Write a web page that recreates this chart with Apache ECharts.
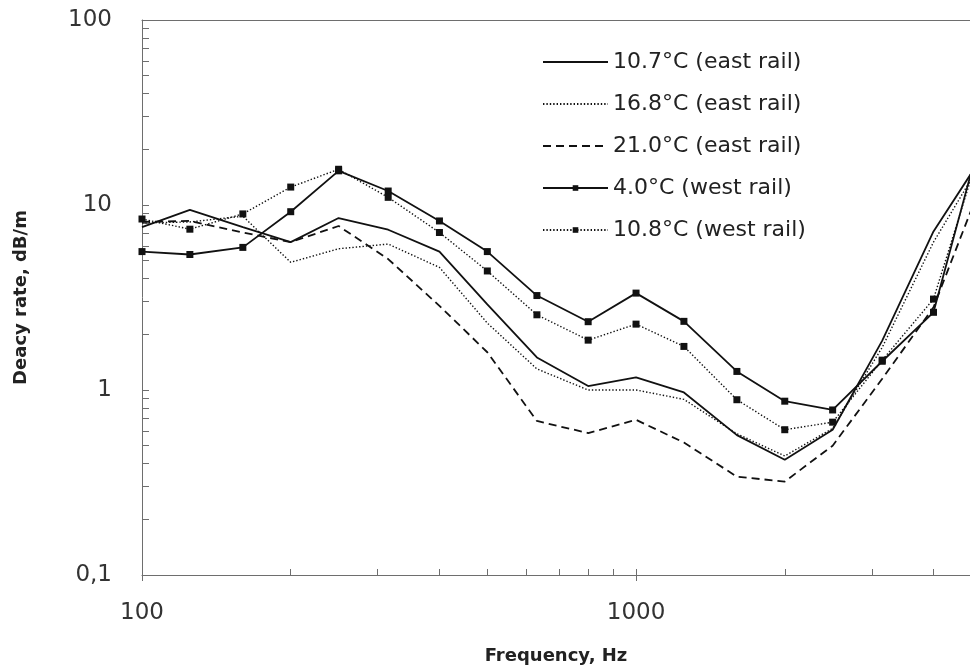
<!DOCTYPE html>
<html>
<head>
<meta charset="utf-8">
<script src="https://cdn.jsdelivr.net/npm/echarts@6/dist/echarts.min.js"></script>
<style>
  html, body { margin: 0; padding: 0; background: #fff; }
  #chart { width: 970px; height: 670px; }
</style>
</head>
<body>
<div id="chart"></div>
<script>
// Third-octave band centre frequencies, Hz
const frequencies = [100, 125, 160, 200, 250, 315, 400, 500, 630, 800, 1000, 1250, 1600, 2000, 2500, 3150, 4000, 5000];

// Track decay rate, dB/m
const east107 = [7.6, 9.4, 7.6, 6.3, 8.5, 7.35, 5.6, 2.9, 1.5, 1.05, 1.17, 0.97, 0.57, 0.42, 0.61, 1.85, 7.2, 18];
const east168 = [8.0, 8.1, 8.7, 4.9, 5.8, 6.15, 4.6, 2.3, 1.3, 1.0, 1.0, 0.89, 0.58, 0.44, 0.62, 1.7, 6.3, 17];
const east210 = [8.1, 8.2, 7.1, 6.3, 7.7, 5.1, 2.85, 1.6, 0.68, 0.585, 0.69, 0.52, 0.34, 0.32, 0.50, 1.15, 2.8, 13];
const west40  = [5.6, 5.4, 5.9, 9.2, 15.3, 11.9, 8.2, 5.6, 3.24, 2.34, 3.34, 2.35, 1.26, 0.87, 0.78, 1.43, 2.63, 24];
const west108 = [8.4, 7.4, 8.95, 12.5, 15.6, 11.0, 7.1, 4.4, 2.55, 1.86, 2.27, 1.72, 0.886, 0.61, 0.67, 1.45, 3.1, 21];

const seriesNames = ['10.7°C (east rail)', '16.8°C (east rail)', '21.0°C (east rail)', '4.0°C (west rail)', '10.8°C (west rail)'];
const seriesMarked = [false, false, false, true, true];

// Axis ticks and labels
const xMin = 100;
const xMax = 4742;   // plot is cut just short of the 5 kHz band
const xTickValues = [100, 200, 300, 400, 500, 600, 700, 800, 900, 1000, 2000, 3000, 4000];
const xMajorTicks = [100, 1000];
const xLabelValues = [100, 1000];
const yMin = 0.1;
const yMax = 100;
const yTickValues = [0.1, 0.2, 0.3, 0.4, 0.5, 0.6, 0.7, 0.8, 0.9, 1, 2, 3, 4, 5, 6, 7, 8, 9, 10, 20, 30, 40, 50, 60, 70, 80, 90, 100];
const yLabelValues = [0.1, 1, 10, 100];

const FONT = '"DejaVu Sans", "Noto Sans", sans-serif';
const INK = '#111';
const AXIS_GREY = '#6e6e6e';

function pairs(values) {
  return frequencies.map((f, i) => [f, values[i]]);
}

function lineSeries(name, values, dash, width, marker) {
  return {
    name: name,
    type: 'line',
    xAxisIndex: 0,
    yAxisIndex: 0,
    data: pairs(values),
    symbol: marker ? 'rect' : 'none',
    symbolSize: 7,
    showSymbol: !!marker,
    itemStyle: { color: INK, opacity: marker ? 1 : 0 },
    lineStyle: { color: INK, width: width, type: dash, opacity: 1 },
    emphasis: { disabled: true },
    clip: true,
    animation: false
  };
}

const logAxisBase = { type: 'log', logBase: 10, min: xMin, max: xMax, splitLine: { show: false } };

const chart = echarts.init(document.getElementById('chart'), null, { renderer: 'canvas' });

chart.setOption({
  backgroundColor: '#fff',
  animation: false,
  grid: { left: 142, top: 20, right: 0, bottom: 94, show: false },
  legend: {
    orient: 'vertical',
    left: 542,
    top: 51,
    padding: 0,
    itemWidth: 65,
    itemHeight: 7,
    itemGap: 20,
    textStyle: { fontFamily: FONT, fontSize: 22, lineHeight: 22, color: '#222' },
    data: seriesNames.map((n, i) => ({ name: n, itemStyle: { opacity: seriesMarked[i] ? 1 : 0 } }))
  },
  xAxis: [
    Object.assign({}, logAxisBase, {
      position: 'bottom',
      axisLine: { show: true, lineStyle: { color: AXIS_GREY, width: 1 } },
      axisTick: { show: true, inside: true, length: 6, customValues: xTickValues, lineStyle: { color: AXIS_GREY } },
      axisLabel: {
        customValues: xLabelValues,
        margin: 27,
        fontFamily: FONT, fontSize: 23, color: '#333',
        formatter: v => String(v)
      },
      name: 'Frequency, Hz',
      nameLocation: 'middle',
      nameGap: 72,
      nameTextStyle: { fontFamily: FONT, fontSize: 18, fontWeight: 'bold', color: '#222' }
    }),
    // crossing ticks at the decades
    Object.assign({}, logAxisBase, {
      position: 'bottom',
      axisLine: { show: false },
      axisTick: { show: true, inside: false, length: 6, customValues: xMajorTicks, lineStyle: { color: AXIS_GREY } },
      axisLabel: { show: false }
    }),
    // top frame line
    Object.assign({}, logAxisBase, {
      position: 'top',
      axisLine: { show: true, lineStyle: { color: AXIS_GREY, width: 1 } },
      axisTick: { show: false },
      axisLabel: { show: false }
    })
  ],
  yAxis: {
    type: 'log',
    logBase: 10,
    min: yMin,
    max: yMax,
    axisLine: { show: true, lineStyle: { color: AXIS_GREY, width: 1 } },
    axisTick: { show: true, inside: true, length: 7, customValues: yTickValues, lineStyle: { color: AXIS_GREY } },
    splitLine: { show: false },
    axisLabel: {
      customValues: yLabelValues,
      margin: 30,
      fontFamily: FONT, fontSize: 23, color: '#333',
      formatter: v => String(v).replace('.', ',')
    },
    name: 'Deacy rate, dB/m',
    nameLocation: 'middle',
    nameRotate: 90,
    nameGap: 112,
    nameTextStyle: { fontFamily: FONT, fontSize: 18, fontWeight: 'bold', color: '#222' }
  },
  series: seriesNames.map((n, i) => {
    const values = [east107, east168, east210, west40, west108][i];
    const dash = [ 'solid', [1.4, 2], [8, 5], 'solid', [1.4, 2] ][i];
    const width = [1.8, 1.4, 1.8, 1.8, 1.4][i];
    return lineSeries(n, values, dash, width, seriesMarked[i]);
  })
});
</script>
</body>
</html>
